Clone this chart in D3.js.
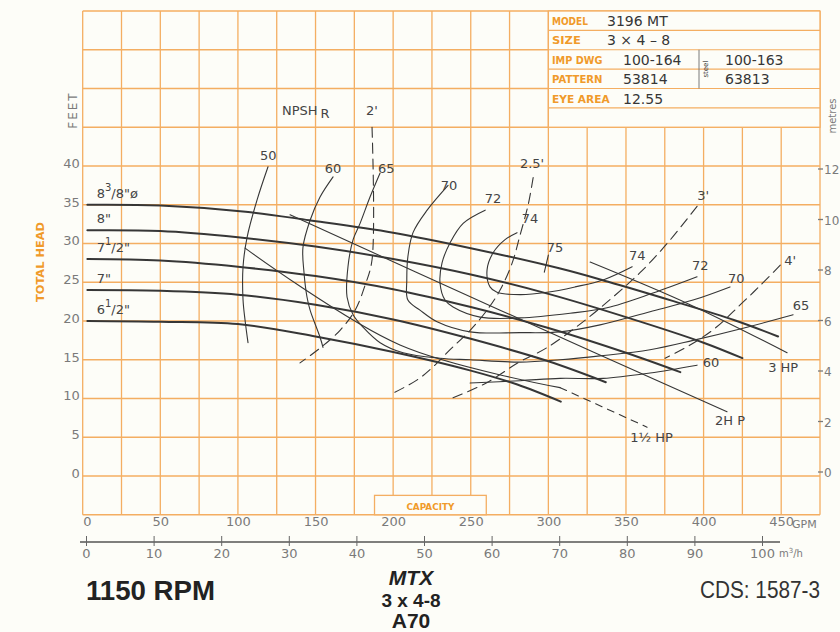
<!DOCTYPE html>
<html>
<head>
<meta charset="utf-8">
<script src="https://cdn.jsdelivr.net/npm/d3@7/dist/d3.min.js"></script>
<style>
	body { margin: 0; background: #fdfdf8; }
	svg { display: block; }
</style>
</head>
<body>
<div id="pump-chart"></div>
<script>
/* global d3 */

// axis ticks
var gpmTicks = [0, 50, 100, 150, 200, 250, 300, 350, 400, 450];
var m3hTicks = [0, 10, 20, 30, 40, 50, 60, 70, 80, 90, 100];
var feetTicks = [0, 5, 10, 15, 20, 25, 30, 35, 40];
var metreTicks = [0, 2, 4, 6, 8, 10, 12];

// head curves, [gpm, feet]
var impellerNames = ["8 3/8", "8", "7 1/2", "7", "6 1/2"];
var head838 = [[3, 35.0], [50, 34.9], [105, 34.1], [146, 33.0], [200, 31.4], [250, 29.4], [307, 26.8], [338, 25.1], [380, 22.6], [420, 20.1], [448, 18.0]];
var head8 = [[3, 31.7], [50, 31.6], [100, 30.8], [150, 29.6], [200, 28.0], [250, 26.0], [300, 23.5], [350, 20.5], [400, 17.2], [425, 15.2]];
var head712 = [[3, 28.0], [50, 27.8], [100, 27.0], [150, 25.8], [200, 24.1], [250, 21.8], [300, 19.1], [350, 15.9], [385, 13.4]];
var head7 = [[3, 24.0], [50, 23.9], [100, 23.4], [150, 22.1], [200, 20.2], [250, 17.7], [300, 14.8], [337, 12.1]];
var head612 = [[3, 20.0], [50, 19.9], [100, 19.6], [150, 18.0], [200, 16.0], [250, 13.6], [280, 11.8], [308, 9.6]];

// efficiency curves (%), [gpm, feet]
var eff50 = [[119.4, 39.9], [112.3, 35.6], [105.9, 30.8], [103.3, 27.0], [103.3, 22.7], [104.6, 20.1], [106.5, 17.2]];
var eff60 = [[161.3, 38.6], [152.9, 36.0], [146.5, 33.0], [141.9, 29.5], [142.6, 26.2], [144.5, 23.1], [146.5, 21.4], [152.9, 17.9], [154.8, 16.6]];
var eff60b = [[249.6, 12.0], [281.8, 12.3], [307.6, 12.6], [335.3, 12.6], [365.5, 13.3], [395.8, 14.3]];
var eff65 = [[191.6, 39.1], [185.1, 36.0], [178.7, 32.6], [174.2, 30.5], [170.9, 27.0], [170.3, 23.1], [174.2, 20.8], [180.6, 19.2], [191.6, 17.2], [206.4, 15.9], [230.2, 15.2], [249.6, 15.0], [281.8, 14.7], [307.6, 15.0], [333.3, 15.5], [365.5, 16.3], [393.2, 17.5], [428.0, 19.2], [457.7, 20.8]];
var eff70 = [[235.4, 37.5], [221.9, 34.3], [212.8, 31.4], [209.5, 28.3], [208.8, 25.3], [209.5, 22.7], [217.3, 21.4], [228.3, 19.9], [249.6, 18.6], [281.8, 18.5], [307.6, 18.6], [333.3, 19.5], [365.5, 21.2], [393.2, 22.7], [417.0, 24.4]];
var eff72 = [[259.3, 34.3], [245.1, 32.6], [236.7, 30.1], [231.5, 27.5], [230.2, 24.9], [233.4, 22.7], [238.6, 21.8], [256.0, 20.5], [281.8, 20.4], [314.0, 21.0], [337.8, 21.7], [367.4, 23.6], [395.8, 25.7]];
var eff74 = [[279.8, 31.4], [272.1, 30.5], [264.4, 28.8], [260.5, 26.6], [262.4, 24.4], [266.9, 23.7], [281.8, 23.4], [299.2, 23.7], [317.2, 24.4], [335.3, 25.3], [354.0, 27.0]];
var eff75 = [[300.0, 28.5], [297.4, 26.3]];

// brake horsepower lines
var hp3 = [[326.9, 27.6], [391.3, 22.1], [453.8, 15.9]];
var hp2 = [[133.6, 33.7], [268.9, 21.4], [415.1, 8.3]];
var hp112 = [[104.6, 29.4], [204.4, 16.9], [307.6, 11.4]];
var hp112Ext = [[307.6, 11.4], [363.6, 6.3]];

// NPSH required
var npsh2 = [[186.4, 45.0], [186.4, 27.9], [181.9, 24.6], [175.5, 21.4], [165.8, 18.8], [152.9, 16.5], [140.0, 14.6]];
var npsh25 = [[290.2, 38.5], [287.0, 35.0], [281.8, 31.1], [276.7, 27.5], [268.9, 24.0], [260.5, 21.4], [249.6, 18.8], [236.7, 16.3], [225.8, 14.1], [215.5, 12.4], [198.1, 10.5]];
var npsh3 = [[395.8, 34.8], [377.8, 30.3], [360.4, 26.5], [341.1, 23.0], [319.8, 19.5], [298.6, 16.5], [281.2, 14.7], [260.0, 12.0], [238.6, 10.1]];
var npsh4 = [[449.4, 27.2], [436.6, 24.6], [423.7, 22.1], [407.6, 19.1], [391.3, 16.9], [375.2, 15.2]];

// curve labels, [text, gpm, feet]
var effLabels = [["50", 119.5, 40.8], ["60", 161.3, 39.1], ["65", 195.5, 39.1], ["70", 236.0, 36.9], ["72", 264.4, 35.2], ["74", 288.2, 32.6], ["75", 304.3, 28.9],
	["74", 357.2, 27.9], ["72", 397.8, 26.6], ["70", 421.0, 24.9], ["65", 462.8, 21.4], ["60", 404.8, 14.1]];
var npshLabels = [["2'", 186.4, 46.6], ["2.5'", 289.5, 39.7], ["3'", 399.7, 35.6], ["4'", 455.8, 27.2]];
var hpLabels = [["3 HP", 441.6, 13.4], ["2H P", 407.4, 6.6], ["1½ HP", 352.7, 4.4]];

// data sheet
var sheetKeys = ["MODEL", "SIZE", "IMP DWG", "PATTERN", "EYE AREA", ""];
var sheetValues = ["3196 MT", "3 × 4 – 8", "100-164", "53814", "12.55", ""];
var sheetSteel = ["", "", "100-163", "63813", "", ""];

function pumpChart(id) {
	var width = 840,
		height = 632,
		orange = "#f4ae62",
		orangeText = "#f09a2a",
		ink = "#363636",
		grey = "#7a7a7a",
		sans = "Liberation Sans, Arial, sans-serif",
		x = d3.scaleLinear().domain([0, 475]).range([82.7, 820]),
		y = d3.scaleLinear().domain([-5, 60]).range([514.75, 11]),
		xm = d3.scaleLinear().domain([0, 100]).range([86, 762]),
		ym = d3.scaleLinear().domain([0, 12]).range([472, 169]),
		line = d3.line()
			.x(function(d) { return x(d[0]); })
			.y(function(d) { return y(d[1]); })
			.curve(d3.curveCatmullRom.alpha(0.5));

	var svg = d3.select("#" + id).append("svg")
		.attr("width", width)
		.attr("height", height)
		.attr("font-family", "DejaVu Sans, sans-serif");

	svg.append("rect")
		.attr("width", width)
		.attr("height", height)
		.attr("fill", "#fdfdf8");

	// orange graph paper
	var grid = svg.append("g")
		.attr("stroke", orange)
		.attr("stroke-width", 1.3);
	grid.selectAll("line.v")
		.data(d3.range(0, 476, 25))
		.join("line")
		.attr("class", "v")
		.attr("x1", x).attr("x2", x)
		.attr("y1", y(-5)).attr("y2", y(60));
	grid.selectAll("line.h")
		.data(d3.range(-5, 61, 5))
		.join("line")
		.attr("class", "h")
		.attr("x1", x(0)).attr("x2", x(475))
		.attr("y1", y).attr("y2", y);

	// data sheet box, top right
	var rowH = (y(45) - y(60)) / sheetKeys.length,
		sheet = svg.append("g");
	sheet.append("rect")
		.attr("x", x(300))
		.attr("y", y(60))
		.attr("width", x(475) - x(300))
		.attr("height", y(45) - y(60))
		.attr("fill", "#fdfdf8")
		.attr("stroke", orange)
		.attr("stroke-width", 1.3);
	sheet.selectAll("line.row")
		.data(d3.range(1, sheetKeys.length))
		.join("line")
		.attr("class", "row")
		.attr("x1", x(300)).attr("x2", x(475))
		.attr("y1", function(i) { return y(60) + i * rowH; })
		.attr("y2", function(i) { return y(60) + i * rowH; })
		.attr("stroke", orange)
		.attr("stroke-width", 1.2);
	sheet.append("line")
		.attr("x1", 699).attr("x2", 699)
		.attr("y1", y(60) + 2 * rowH).attr("y2", y(60) + 4 * rowH)
		.attr("stroke", grey)
		.attr("stroke-width", 1);
	sheet.append("text")
		.attr("transform", "translate(708," + (y(60) + 3 * rowH) + ") rotate(-90)")
		.attr("text-anchor", "middle")
		.attr("font-size", 7)
		.attr("fill", ink)
		.text("steel");
	sheet.selectAll("text.key")
		.data(sheetKeys)
		.join("text")
		.attr("class", "key")
		.attr("x", 552)
		.attr("y", function(d, i) { return y(60) + i * rowH + 14; })
		.attr("font-size", 10.5)
		.attr("font-weight", "bold")
		.attr("fill", orangeText)
		.attr("textLength", function(d) { return d.length * 7.2; })
		.attr("lengthAdjust", "spacingAndGlyphs")
		.text(function(d) { return d; });
	sheet.selectAll("text.val")
		.data(sheetValues)
		.join("text")
		.attr("class", "val")
		.attr("x", function(d, i) { return i < 2 ? 607 : 623; })
		.attr("y", function(d, i) { return y(60) + i * rowH + 15; })
		.attr("font-size", 14)
		.attr("fill", ink)
		.text(function(d) { return d; });
	sheet.selectAll("text.steel")
		.data(sheetSteel)
		.join("text")
		.attr("class", "steel")
		.attr("x", 725)
		.attr("y", function(d, i) { return y(60) + i * rowH + 15; })
		.attr("font-size", 14)
		.attr("fill", ink)
		.text(function(d) { return d; });

	// feet axis (left)
	svg.append("g")
		.attr("transform", "translate(" + x(0) + ",0)")
		.call(d3.axisLeft(y).tickValues(feetTicks).tickSize(0).tickPadding(3))
		.call(function(g) { g.select(".domain").remove(); })
		.call(function(g) {
			g.selectAll("text")
				.attr("font-family", "DejaVu Sans")
				.attr("font-size", 13)
				.attr("fill", grey)
				.attr("dy", "0.1em");
		});

	// metres axis (right)
	var mAxis = svg.append("g").attr("class", "metres");
	mAxis.selectAll("line")
		.data(metreTicks)
		.join("line")
		.attr("x1", 818).attr("x2", 823)
		.attr("y1", ym).attr("y2", ym)
		.attr("stroke", grey)
		.attr("stroke-width", 1.3);
	mAxis.selectAll("text")
		.data(metreTicks)
		.join("text")
		.attr("x", 824)
		.attr("y", function(d) { return ym(d) + 5; })
		.attr("font-size", 12)
		.attr("fill", grey)
		.text(function(d) { return d; });

	svg.append("text")
		.attr("transform", "translate(77,110) rotate(-90)")
		.attr("text-anchor", "middle")
		.attr("font-size", 12)
		.attr("letter-spacing", 2)
		.attr("fill", grey)
		.text("FEET");
	svg.append("text")
		.attr("transform", "translate(44,262) rotate(-90)")
		.attr("text-anchor", "middle")
		.attr("font-size", 11)
		.attr("font-weight", "bold")
		.attr("fill", orangeText)
		.attr("textLength", 80)
		.attr("lengthAdjust", "spacingAndGlyphs")
		.text("TOTAL HEAD");
	svg.append("text")
		.attr("transform", "translate(836,116) rotate(-90)")
		.attr("text-anchor", "middle")
		.attr("font-size", 10)
		.attr("fill", grey)
		.text("metres");

	// capacity axes (bottom)
	svg.append("rect")
		.attr("x", x(188))
		.attr("y", y(-2.5))
		.attr("width", x(260) - x(188))
		.attr("height", y(-5) - y(-2.5))
		.attr("fill", "#fdfdf8")
		.attr("stroke", orange)
		.attr("stroke-width", 1.3);
	svg.append("text")
		.attr("x", x(224))
		.attr("y", y(-5) - 5)
		.attr("text-anchor", "middle")
		.attr("font-size", 9)
		.attr("font-weight", "bold")
		.attr("fill", orangeText)
		.attr("textLength", 48)
		.attr("lengthAdjust", "spacingAndGlyphs")
		.text("CAPACITY");

	svg.append("g")
		.attr("transform", "translate(0," + y(-5) + ")")
		.call(d3.axisBottom(x).tickValues(gpmTicks).tickSize(0).tickPadding(2))
		.call(function(g) { g.select(".domain").remove(); })
		.call(function(g) {
			g.selectAll("text")
				.attr("font-family", "DejaVu Sans")
				.attr("font-size", 13)
				.attr("fill", grey)
				.attr("text-anchor", function(d) { return d === 0 ? "start" : "middle"; });
		});
	svg.append("text")
		.attr("x", 792)
		.attr("y", 528)
		.attr("font-size", 11)
		.attr("fill", grey)
		.text("GPM");

	svg.append("g")
		.attr("transform", "translate(0,542)")
		.call(d3.axisBottom(xm).tickValues(m3hTicks).tickSize(4).tickPadding(3))
		.call(function(g) {
			g.select(".domain")
				.attr("d", "M80,0H780")
				.attr("stroke", "#555")
				.attr("stroke-width", 1.6);
			g.selectAll(".tick line")
				.attr("y1", -6)
				.attr("stroke", "#666");
			g.selectAll("text")
				.attr("font-family", "DejaVu Sans")
				.attr("font-size", 13)
				.attr("fill", grey);
		});
	svg.append("text")
		.attr("x", 779)
		.attr("y", 557)
		.attr("font-size", 10)
		.attr("fill", grey)
		.html("m<tspan dy='-4' font-size='7'>3</tspan><tspan dy='4'>/h</tspan>");

	// drawing helpers
	function curve(g, data, w, dash) {
		g.append("path")
			.datum(data)
			.attr("fill", "none")
			.attr("stroke", ink)
			.attr("stroke-width", w)
			.attr("stroke-dasharray", dash || null)
			.attr("stroke-linecap", "round")
			.attr("d", line);
	}
	function labels(g, data, anchor) {
		g.selectAll("text")
			.data(data)
			.join("text")
			.attr("x", function(d) { return x(d[1]); })
			.attr("y", function(d) { return y(d[2]); })
			.attr("text-anchor", anchor)
			.attr("font-size", 13)
			.attr("fill", "#444")
			.text(function(d) { return d[0]; });
	}

	var marks = svg.append("g");
	[eff50, eff60, eff60b, eff65, eff70, eff72, eff74, eff75].forEach(function(d) { curve(marks, d, 1.1); });
	[hp3, hp2, hp112].forEach(function(d) { curve(marks, d, 1.1); });
	curve(marks, hp112Ext, 1.1, "7,6");
	[npsh2, npsh25, npsh3, npsh4].forEach(function(d) { curve(marks, d, 1.1, "10,6"); });
	[head838, head8, head712, head7, head612].forEach(function(d) { curve(marks, d, 2); });

	labels(svg.append("g"), effLabels, "middle");
	labels(svg.append("g"), npshLabels, "middle");
	labels(svg.append("g"), hpLabels, "start");

	svg.append("text")
		.attr("x", x(128.4))
		.attr("y", y(46.6))
		.attr("font-size", 13)
		.attr("fill", "#444")
		.html("NPSH<tspan dx='3' dy='3'>R</tspan>");

	// impeller diameters
	var heads = [head838, head8, head712, head7, head612],
		impG = svg.append("g").attr("font-size", 13).attr("fill", "#444");
	impellerNames.forEach(function(name, i) {
		var parts = name.split(" "),
			t = impG.append("text")
				.attr("x", x(9))
				.attr("y", y(heads[i][0][1]) - 7);
		t.append("tspan").text(parts[0]);
		if (parts[1]) {
			var frac = parts[1].split("/");
			t.append("tspan").attr("dy", -7).attr("font-size", 10).text(frac[0]);
			t.append("tspan").attr("dy", 7).text("/" + frac[1] + "\"" + (i === 0 ? "ø" : ""));
		} else {
			t.append("tspan").text("\"");
		}
	});

	// titles
	svg.append("text")
		.attr("x", 86).attr("y", 600)
		.attr("font-family", sans)
		.attr("font-size", 27)
		.attr("font-weight", "bold")
		.attr("fill", "#222")
		.attr("textLength", 129)
		.attr("lengthAdjust", "spacingAndGlyphs")
		.text("1150 RPM");
	svg.append("text")
		.attr("x", 700).attr("y", 598)
		.attr("font-family", sans)
		.attr("font-size", 23)
		.attr("fill", "#333")
		.attr("textLength", 120)
		.attr("lengthAdjust", "spacingAndGlyphs")
		.text("CDS: 1587-3");
	svg.append("g")
		.attr("font-family", sans)
		.attr("font-weight", "bold")
		.attr("fill", "#222")
		.attr("text-anchor", "middle")
		.selectAll("text")
		.data(["MTX", "3 x 4-8", "A70"])
		.join("text")
		.attr("x", 411)
		.attr("y", function(d, i) { return 585 + i * 21.5; })
		.attr("font-size", function(d, i) { return i === 1 ? 19 : 21; })
		.attr("font-style", function(d, i) { return i ? null : "italic"; })
		.text(function(d) { return d; });
}

pumpChart("pump-chart");
</script>
</body>
</html>
